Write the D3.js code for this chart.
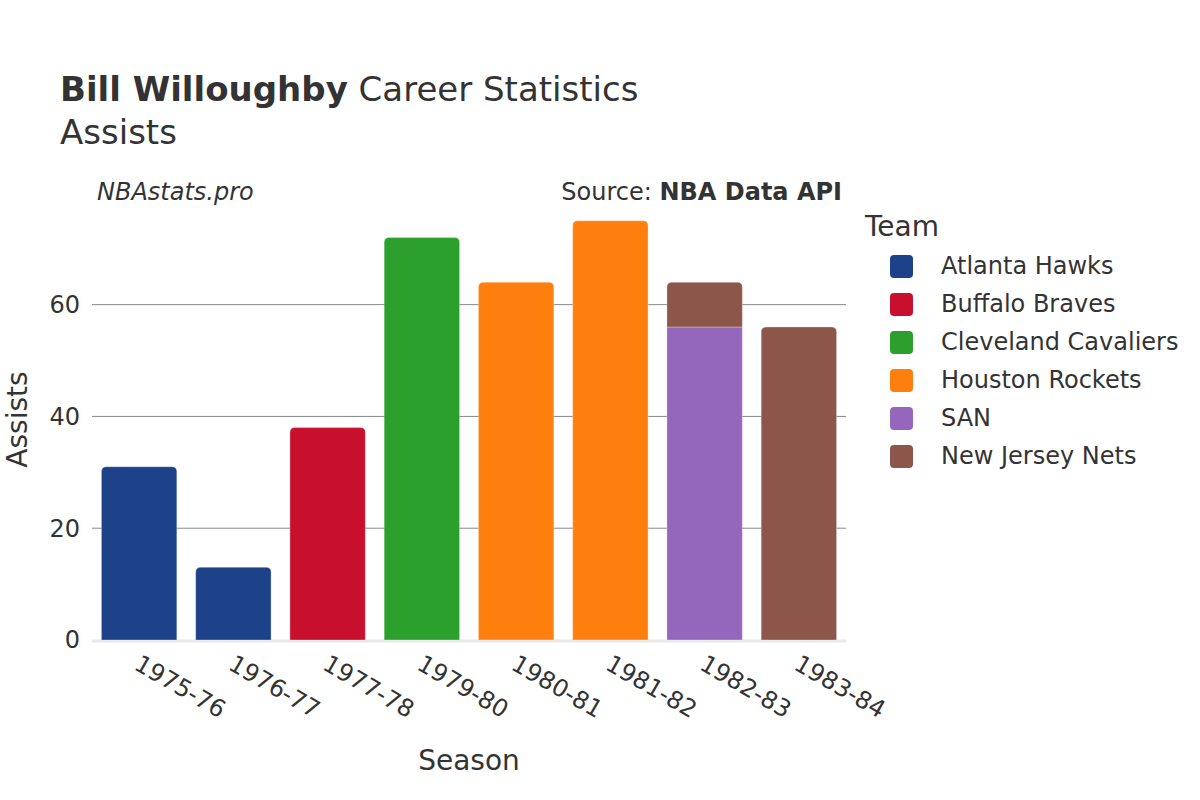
<!DOCTYPE html>
<html>
<head>
<meta charset="utf-8">
<script src="https://cdn.jsdelivr.net/npm/d3@7"></script>
<style>
  body { margin: 0; background: #fff; }
  text { font-family: "DejaVu Sans", sans-serif; fill: #333; }
</style>
</head>
<body>
<div id="chart"></div>
<script>
// ---- data
var seasons = ["1975-76", "1976-77", "1977-78", "1979-80", "1980-81", "1981-82", "1982-83", "1983-84"];
var teams = ["Atlanta Hawks", "Buffalo Braves", "Cleveland Cavaliers", "Houston Rockets", "SAN", "New Jersey Nets"];
var teamColors = ["#1d428a", "#c8102e", "#2ca02c", "#ff7f0e", "#9467bd", "#8c564b"];

var atlantaHawks   = [31, 13, 0, 0, 0, 0, 0, 0];
var buffaloBraves  = [0, 0, 38, 0, 0, 0, 0, 0];
var clevelandCavs  = [0, 0, 0, 72, 0, 0, 0, 0];
var houstonRockets = [0, 0, 0, 0, 64, 75, 0, 0];
var sanAntonio     = [0, 0, 0, 0, 0, 0, 56, 0];
var newJerseyNets  = [0, 0, 0, 0, 0, 0, 8, 56];

var yTicks = [0, 20, 40, 60];

var series = [atlantaHawks, buffaloBraves, clevelandCavs, houstonRockets, sanAntonio, newJerseyNets];

// ---- layout
var W = 1200, H = 800;
var margin = {top: 199, right: 354, bottom: 160, left: 92};
var width = W - margin.left - margin.right;
var height = H - margin.top - margin.bottom;

var svg = d3.select("#chart").append("svg")
    .attr("width", W).attr("height", H);

var rows = seasons.map(function(s, i) {
  var r = {season: s};
  teams.forEach(function(t, k) { r[t] = series[k][i]; });
  return r;
});
var stacked = d3.stack().keys(teams)(rows);

var xScale = d3.scaleBand().domain(seasons).range([0, width]).paddingInner(0.2).paddingOuter(0.1);
var yScale = d3.scaleLinear().domain([0, 78.9]).range([height, 0]);
var color = d3.scaleOrdinal().domain(teams).range(teamColors);

var g = svg.append("g").attr("transform", "translate(" + margin.left + "," + margin.top + ")");

// gridlines
g.append("g").selectAll("line").data(yTicks.filter(function(d) { return d > 0; }))
  .enter().append("line")
    .attr("x1", 0).attr("x2", width)
    .attr("y1", function(d) { return yScale(d); })
    .attr("y2", function(d) { return yScale(d); })
    .attr("stroke", "#888").attr("stroke-width", 1);

// zero line
g.append("line")
    .attr("x1", 0).attr("x2", width)
    .attr("y1", yScale(0) + 1).attr("y2", yScale(0) + 1)
    .attr("stroke", "#e8e8e8").attr("stroke-width", 3);

// top segment of each season gets rounded corners
var topKey = seasons.map(function(s, i) {
  var last = null;
  teams.forEach(function(t, k) { if (series[k][i] > 0) last = t; });
  return last;
});

function barPath(x0, y0, w, y1, rounded) {
  var r = rounded ? Math.min(5, w / 2, (y0 - y1)) : 0;
  return "M" + x0 + "," + y0 +
         "V" + (y1 + r) +
         (r ? "Q" + x0 + "," + y1 + " " + (x0 + r) + "," + y1 : "") +
         "H" + (x0 + w - r) +
         (r ? "Q" + (x0 + w) + "," + y1 + " " + (x0 + w) + "," + (y1 + r) : "") +
         "V" + y0 + "Z";
}

stacked.forEach(function(layer) {
  g.append("g").selectAll("path")
    .data(layer.filter(function(d) { return d[1] - d[0] > 0; }))
    .enter().append("path")
      .attr("d", function(d) {
        var s = d.data.season;
        var i = seasons.indexOf(s);
        return barPath(xScale(s), yScale(d[0]), xScale.bandwidth(), yScale(d[1]), topKey[i] === layer.key);
      })
      .attr("fill", color(layer.key))
      .attr("stroke", "rgba(255,255,255,0.5)")
      .attr("stroke-width", 0.6);
});

// y tick labels
g.append("g").selectAll("text").data(yTicks).enter().append("text")
    .attr("x", -12).attr("y", function(d) { return yScale(d); })
    .attr("dy", "0.35em").attr("text-anchor", "end")
    .style("font-size", "24px")
    .text(function(d) { return d; });

// x tick labels, rotated
g.append("g").selectAll("text").data(seasons).enter().append("text")
    .attr("transform", function(d) {
      return "translate(" + (xScale(d) + xScale.bandwidth() / 2 + 2) + "," + (height + 14) + ") rotate(30)";
    })
    .attr("text-anchor", "start")
    .attr("dy", "0.7em")
    .style("font-size", "24px")
    .text(function(d) { return d; });

// axis titles
svg.append("text")
    .attr("x", margin.left + width / 2).attr("y", 770)
    .attr("text-anchor", "middle").style("font-size", "28px")
    .text("Season");

svg.append("text")
    .attr("transform", "translate(27," + (margin.top + height / 2) + ") rotate(-90)")
    .attr("text-anchor", "middle").style("font-size", "28px")
    .text("Assists");

// titles
var title = svg.append("text").attr("x", 60).attr("y", 101).style("font-size", "34px");
title.append("tspan").style("font-weight", "bold").text("Bill Willoughby");
title.append("tspan").text(" Career Statistics");

svg.append("text").attr("x", 60).attr("y", 144).style("font-size", "34px").text("Assists");

svg.append("text").attr("x", 97).attr("y", 200)
    .style("font-size", "24px").style("font-style", "italic")
    .text("NBAstats.pro");

var src = svg.append("text").attr("x", 842).attr("y", 200)
    .attr("text-anchor", "end").style("font-size", "24px");
src.append("tspan").text("Source: ");
src.append("tspan").style("font-weight", "bold").text("NBA Data API");

// legend
var legend = svg.append("g").attr("transform", "translate(865,0)");
legend.append("text").attr("x", 0).attr("y", 236).style("font-size", "28px").text("Team");

var items = legend.selectAll("g.item").data(teams).enter().append("g")
    .attr("class", "item")
    .attr("transform", function(d, i) { return "translate(0," + (266 + i * 38) + ")"; });

items.append("rect")
    .attr("x", 25).attr("y", -11).attr("width", 23).attr("height", 23)
    .attr("rx", 4).attr("ry", 4)
    .attr("fill", function(d) { return color(d); });

items.append("text")
    .attr("x", 76).attr("y", 0).attr("dy", "0.35em")
    .style("font-size", "24px")
    .text(function(d) { return d; });
</script>
</body>
</html>
